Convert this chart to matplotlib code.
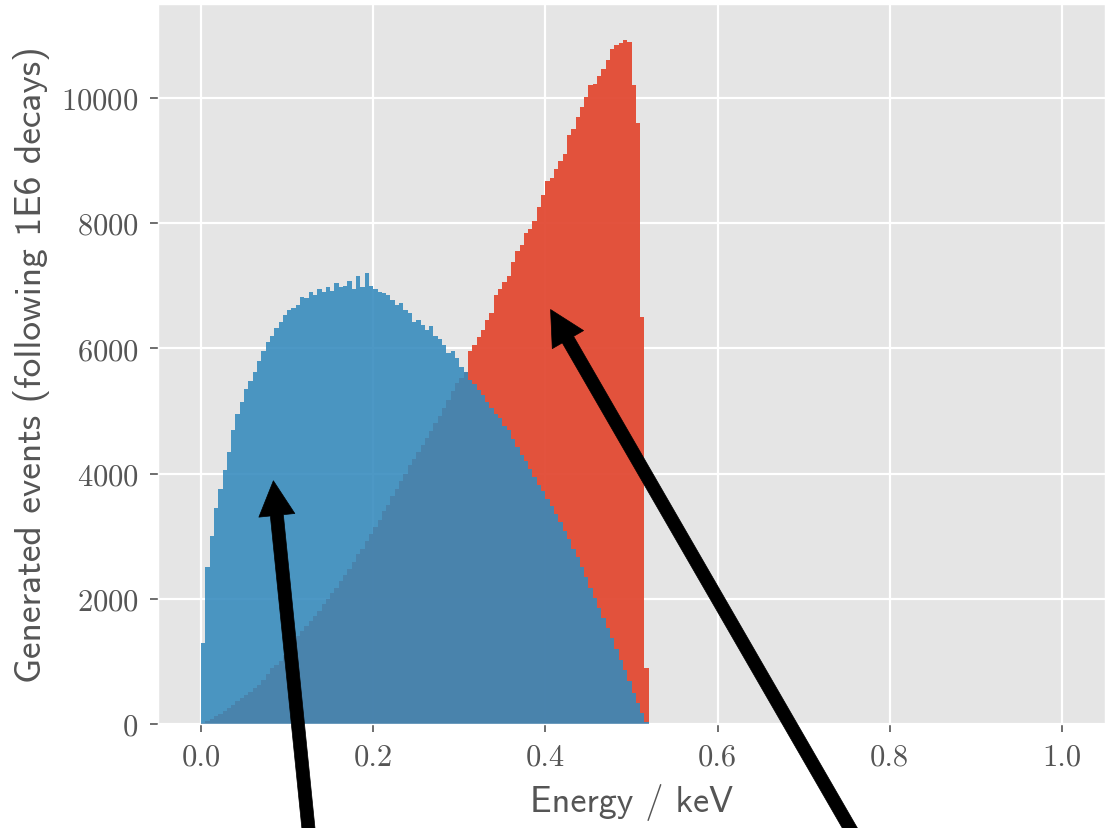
import numpy as np
import matplotlib
matplotlib.use('Agg')
import matplotlib.pyplot as plt

plt.style.use('ggplot')
plt.rcParams['axes.formatter.use_mathtext'] = True

# histogram bins, 0.005 keV wide, starting at 0
bin_width = 0.005

# blue spectrum (counts per bin)
blue_counts = [1300, 2500, 3000, 3450, 3750, 4050, 4350, 4700, 4950, 5150,
               5350, 5480, 5620, 5800, 5950, 6100, 6200, 6330, 6420, 6530,
               6620, 6650, 6700, 6820, 6800, 6900, 6850, 6950, 6900, 6980,
               6920, 7050, 6980, 7000, 7080, 6950, 7150, 6980, 7200, 7000,
               6950, 6900, 6880, 6850, 6780, 6700, 6720, 6620, 6560, 6420,
               6450, 6380, 6300, 6350, 6200, 6150, 6050, 5920, 5950, 5850,
               5700, 5620, 5500, 5430, 5330, 5250, 5150, 5050, 4950, 4880,
               4760, 4700, 4560, 4430, 4300, 4200, 4080, 3950, 3820, 3720,
               3600, 3480, 3350, 3220, 3080, 2950, 2800, 2660, 2500, 2350,
               2180, 2020, 1860, 1700, 1530, 1370, 1200, 1030, 860, 680,
               500, 330, 170, 30]

# red spectrum (counts per bin)
red_counts = [15, 45, 80, 120, 160, 200, 250, 300, 360, 410,
              460, 510, 570, 620, 700, 800, 900, 950, 1010, 1100,
              1230, 1300, 1400, 1480, 1570, 1640, 1730, 1800, 1920, 1990,
              2090, 2170, 2290, 2380, 2480, 2580, 2720, 2800, 2920, 3030,
              3150, 3260, 3400, 3500, 3640, 3760, 3880, 4000, 4130, 4230,
              4350, 4460, 4570, 4680, 4800, 4920, 5050, 5180, 5320, 5450,
              5530, 5620, 5950, 6050, 6180, 6300, 6460, 6560, 6850, 6950,
              7060, 7150, 7380, 7560, 7650, 7850, 7900, 8040, 8250, 8450,
              8680, 8720, 8870, 9000, 9110, 9400, 9500, 9690, 9850, 10020,
              10200, 10230, 10350, 10460, 10600, 10780, 10850, 10880, 10930, 10900,
              10200, 9600, 6500, 900]

# arrows: (tip, tail) in data coords
arrow_blue = ((0.084, 3885), (0.133, -2790))
arrow_red = ((0.406, 6620), (0.801, -2790))

edges = np.arange(len(red_counts) + 1) * bin_width

fig = plt.figure(figsize=(11.05, 8.29), dpi=100)
ax = fig.add_axes([158/1105, 104/829, 947/1105, 720/829])

ax.stairs(red_counts, edges, fill=True, color='#E24A33', alpha=0.95)
ax.stairs(blue_counts, edges, fill=True, color='#348ABD', alpha=0.88)

ax.set_xlim(-0.05, 1.05)
ax.set_ylim(0, 11500)
ax.set_xticks([0.0, 0.2, 0.4, 0.6, 0.8, 1.0])
ax.set_yticks([0, 2000, 4000, 6000, 8000, 10000])
ax.set_xticklabels(['0.0', '0.2', '0.4', '0.6', '0.8', '1.0'])
ax.grid(True, color='white', linewidth=1.6)

for lab in ax.get_xticklabels() + ax.get_yticklabels():
    lab.set_fontfamily('cmr10')
    lab.set_fontsize(22)
    lab.set_color('#555555')
ax.tick_params(length=6, width=1.2, color='#555555', pad=8)

ax.set_xlabel('Energy / keV', fontfamily='cmss10', fontsize=26, color='#555555', labelpad=9)
ax.set_ylabel('Generated events (following 1E6 decays)', fontfamily='cmss10',
              fontsize=27, color='#555555', labelpad=8)

for tip, tail in [arrow_blue, arrow_red]:
    ax.annotate('', xy=tip, xytext=tail, annotation_clip=False,
                arrowprops=dict(facecolor='black', edgecolor='black', width=9.4,
                                headwidth=26, headlength=25, shrink=0))

fig.savefig('out.png', dpi=100)
